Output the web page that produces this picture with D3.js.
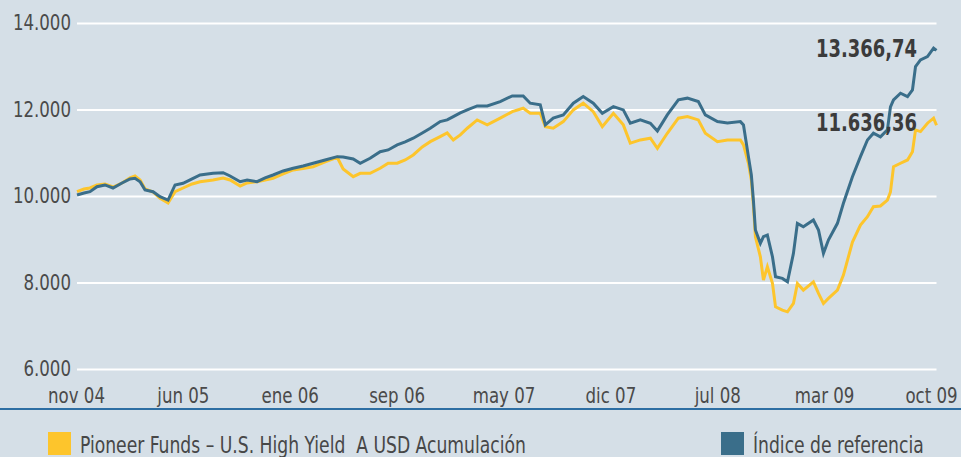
<!DOCTYPE html>
<html>
<head>
<meta charset="utf-8">
<script src="https://cdn.jsdelivr.net/npm/d3@7"></script>
<style>
  html, body { margin: 0; padding: 0; background: #d5dfe7; }
  svg { display: block; }
  text { font-family: "DejaVu Sans Condensed", "Liberation Sans", sans-serif; }
</style>
</head>
<body>
<svg id="chart" width="961" height="457"></svg>
<script>
// Months elapsed since November 2004 for each observation
const meses = [0, 0.48, 0.89, 1.37, 1.92, 2.47, 3.09, 3.64, 3.98, 4.33, 4.67, 5.22, 5.70, 6.25, 6.73, 7.28, 7.90, 8.45, 9.34, 10.03,
  10.51, 11.20, 11.68, 12.36, 12.91, 13.46, 14.15, 14.84, 15.52, 16.21, 17.03, 17.86, 18.27, 18.96, 19.44, 20.12, 20.81, 21.36, 21.98, 22.53,
  23.08, 23.70, 24.25, 24.93, 25.41, 25.83, 26.31, 26.79, 27.47, 28.16, 29.05, 29.88, 30.63, 31.11, 31.80, 32.15, 32.69, 33.38, 34.07, 34.75,
  35.44, 36.06, 36.82, 37.50, 37.98, 38.67, 39.36, 39.84, 40.52, 41.28, 41.90, 42.65, 43.13, 43.96, 44.65, 45.54, 45.75, 46.09, 46.29, 46.43,
  46.57, 46.91, 47.12, 47.39, 47.74, 47.95, 48.42, 48.77, 49.18, 49.45, 49.86, 50.55, 50.90, 51.24, 51.58, 52.20, 52.61, 53.23, 53.78, 54.26,
  54.67, 55.15, 55.63, 55.84, 56.05, 56.53, 57.01, 57.35, 57.56, 57.90, 58.38, 58.80, 59.00];

// Pioneer Funds – U.S. High Yield A USD Acumulación (base 10.000)
const fondo = [10100, 10162, 10185, 10255, 10278, 10208, 10300, 10417, 10463, 10370, 10162, 10093, 9947, 9838, 10100, 10185, 10278, 10331, 10370, 10417,
  10370, 10231, 10301, 10331, 10370, 10410, 10509, 10602, 10637, 10678, 10787, 10896, 10625, 10447, 10525, 10525, 10641, 10757, 10757, 10833,
  10949, 11134, 11257, 11373, 11458, 11296, 11412, 11567, 11759, 11644, 11799, 11951, 12030, 11914, 11914, 11604, 11567, 11720, 11991, 12146,
  11951, 11604, 11914, 11644, 11220, 11296, 11336, 11104, 11451, 11799, 11836, 11759, 11451, 11257, 11296, 11296, 11181, 10757, 10370, 9792,
  9058, 8595, 8055, 8363, 7979, 7437, 7361, 7322, 7516, 7979, 7824, 8016, 7748, 7516, 7632, 7824, 8171, 8935, 9329, 9521,
  9752, 9769, 9907, 10093, 10678, 10757, 10833, 11025, 11528, 11489, 11683, 11799, 11636.36];

// Índice de referencia (base 10.000)
const indice = [10023, 10069, 10100, 10215, 10255, 10185, 10300, 10394, 10410, 10331, 10139, 10100, 9984, 9907, 10255, 10294, 10394, 10486, 10525, 10539,
  10463, 10331, 10370, 10331, 10417, 10486, 10579, 10641, 10694, 10757, 10833, 10910, 10903, 10857, 10757, 10873, 11025, 11065, 11181, 11250,
  11336, 11458, 11567, 11720, 11759, 11836, 11921, 11991, 12083, 12083, 12183, 12315, 12315, 12146, 12107, 11644, 11799, 11875, 12146, 12299,
  12146, 11914, 12067, 11991, 11683, 11759, 11683, 11505, 11875, 12222, 12262, 12183, 11875, 11720, 11690, 11720, 11644, 10910, 10486, 9907,
  9213, 8905, 9058, 9097, 8595, 8132, 8095, 8016, 8674, 9368, 9289, 9444, 9213, 8674, 8982, 9368, 9831, 10447, 10910, 11296,
  11451, 11366, 11528, 12060, 12222, 12377, 12299, 12454, 12993, 13148, 13225, 13419, 13366.74];

const etiquetasX = ["nov 04", "jun 05", "ene 06", "sep 06", "may 07", "dic 07", "jul 08", "mar 09", "oct 09"];
const ticksY = [6000, 8000, 10000, 12000, 14000];
const nombres = ["Pioneer Funds – U.S. High Yield  A USD Acumulación", "Índice de referencia"];
const colores = ["#fdc52c", "#3a6e8a"];

const es = d3.formatLocale({ decimal: ",", thousands: ".", grouping: [3], currency: ["", " €"] });
const fmtEje = es.format(",.0f");
const fmtValor = es.format(",.2f");

// Squeeze text horizontally to get a condensed face
function comprimir(sel, k) {
  sel.each(function () {
    const w = this.getComputedTextLength();
    d3.select(this).attr("textLength", w * k).attr("lengthAdjust", "spacingAndGlyphs");
  });
}
// Same effect for axis labels, done with a transform around the tick origin
function comprimirEje(sel, k) {
  sel.each(function () {
    const t = d3.select(this);
    const x = +t.attr("x") || 0;
    t.attr("x", x / k).attr("transform", `scale(${k},1)`);
  });
}

const svg = d3.select("#chart");
const x0 = 77, x1 = 936.5, yTop = 23, yBot = 369;

const x = d3.scaleLinear().domain([0, 59]).range([x0, x1]);
const y = d3.scaleLinear().domain([6000, 14000]).range([yBot, yTop]);
const xEtiq = d3.scalePoint().domain(etiquetasX).range([76, 931]);

// Horizontal gridlines with value labels
const gy = svg.append("g").attr("transform", `translate(${x0},0)`)
  .call(d3.axisLeft(y).tickValues(ticksY).tickFormat(fmtEje)
    .tickSizeInner(-(x1 - x0)).tickSizeOuter(0).tickPadding(6));
gy.select(".domain").remove();
gy.selectAll(".tick line").attr("stroke", "#ffffff").attr("stroke-width", 2);
gy.selectAll(".tick text").attr("fill", "#4a4a4a").attr("font-size", 21).attr("dy", "0.32em")
  .call(comprimirEje, 0.88);

// Month labels along the bottom
const gx = svg.append("g").attr("transform", `translate(0,${yBot})`)
  .call(d3.axisBottom(xEtiq).tickSize(0).tickPadding(19));
gx.select(".domain").remove();
gx.selectAll(".tick text").attr("fill", "#4a4a4a").attr("font-size", 21)
  .call(comprimirEje, 0.88);

// Baseline separating chart and legend
svg.append("line").attr("x1", 0).attr("x2", 961).attr("y1", 409).attr("y2", 409)
  .attr("stroke", "#2d6ea3").attr("stroke-width", 2);

// Series lines: fund first, index on top
const linea = d3.line().x((d) => x(d[0])).y((d) => y(d[1]));
[fondo, indice].forEach((serie, i) => {
  svg.append("path")
    .datum(d3.zip(meses, serie))
    .attr("fill", "none")
    .attr("stroke", colores[i])
    .attr("stroke-width", 3)
    .attr("stroke-linejoin", "miter")
    .attr("d", linea);
});

// Final values
[indice, fondo].forEach((serie) => {
  const v = serie[serie.length - 1];
  svg.append("text")
    .attr("x", 917)
    .attr("y", serie === indice ? 57 : 131)
    .attr("text-anchor", "end")
    .attr("font-size", 24)
    .attr("font-weight", "bold")
    .attr("fill", "#3b3b3b")
    .text(fmtValor(v))
    .call(comprimir, 0.83);
});

// Legend
const leyenda = [{ x: 48, i: 0 }, { x: 721, i: 1 }];
leyenda.forEach((l) => {
  svg.append("rect").attr("x", l.x).attr("y", 432).attr("width", 23).attr("height", 23).attr("fill", colores[l.i]);
  svg.append("text").attr("x", l.x + 32).attr("y", 453)
    .attr("font-size", 23).attr("fill", "#474747")
    .style("white-space", "pre")
    .text(nombres[l.i])
    .call(comprimir, 0.83);
});
</script>
</body>
</html>
